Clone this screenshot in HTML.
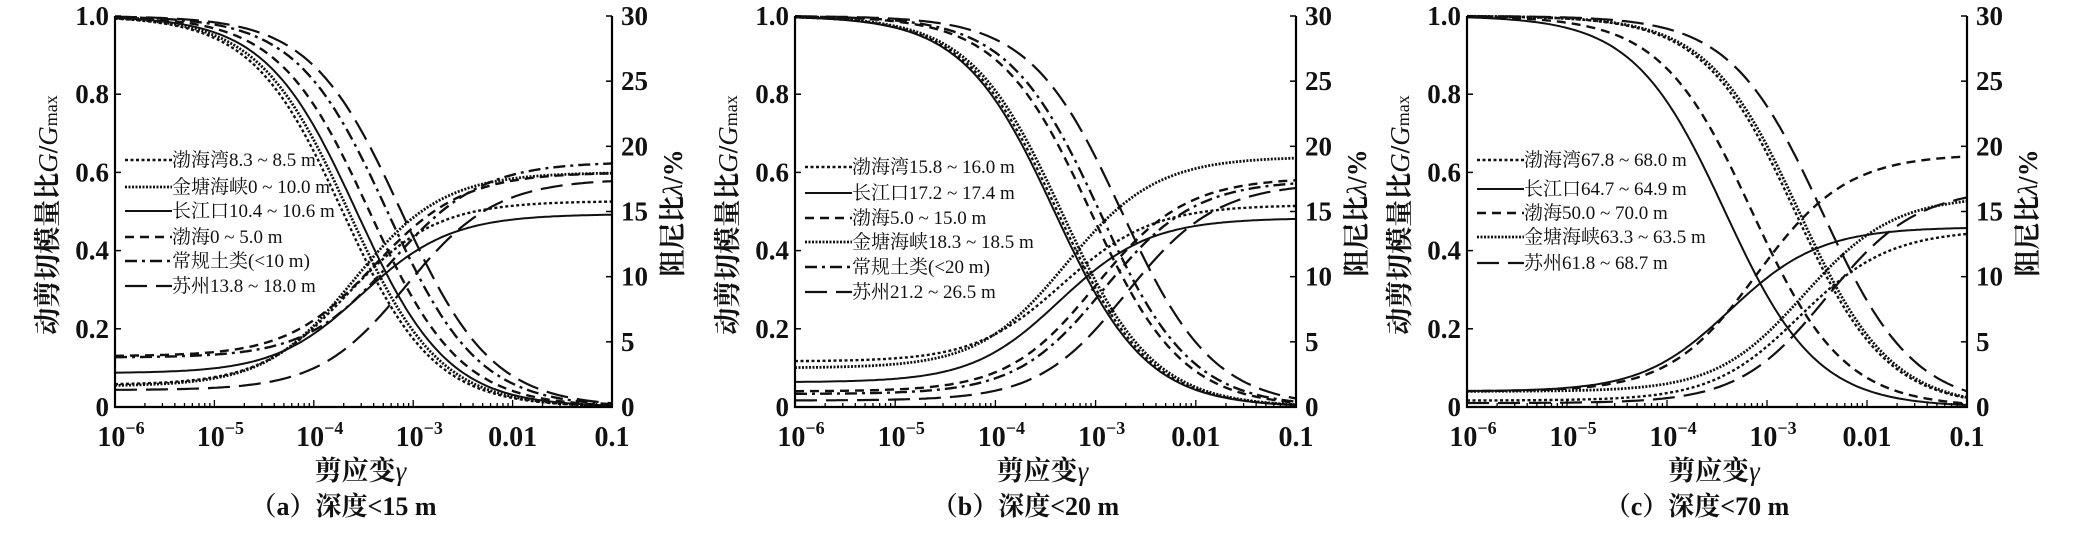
<!DOCTYPE html>
<html><head><meta charset="utf-8">
<style>
html,body{margin:0;padding:0;background:#fff;}
svg{display:block;}
text{font-family:"Liberation Serif","Noto Serif CJK SC",serif;fill:#111;}
</style></head>
<body>
<svg id="s" width="2082" height="536" xmlns="http://www.w3.org/2000/svg"></svg>
<script>
const S=document.getElementById('s');
let out='';
const T=16,B=407,H=B-T;
const styles={
 dot:'stroke-dasharray="3,2.5" stroke-width="2.4"',
 dot2:'stroke-dasharray="2,1.5" stroke-width="2.8"',
 solid:'stroke-width="2"',
 dash:'stroke-dasharray="9,6" stroke-width="2.4"',
 dashdot:'stroke-dasharray="12,5,3,5" stroke-width="2.4"',
 long:'stroke-dasharray="22,9" stroke-width="2.2"'
};
const panels=[
 {L:115,R:612,cap:'（a）深度<15 m',
  legY:[160,187,211,237,261,286],
  series:[
   ['dot','渤海湾8.3 ~ 8.5 m',2.29,1.7,15.8],
   ['dot2','金塘海峡0 ~ 10.0 m',2.35,1.6,18.0],
   ['solid','长江口10.4 ~ 10.6 m',2.43,2.6,14.8],
   ['dash','渤海0 ~ 5.0 m',2.56,3.9,18.0],
   ['dashdot','常规土类(<10 m)',2.74,3.8,18.8],
   ['long','苏州13.8 ~ 18.0 m',2.88,1.3,17.5]]},
 {L:795,R:1296,cap:'（b）深度<20 m',
  legY:[167,193,218,242,267,292],
  series:[
   ['dot','渤海湾15.8 ~ 16.0 m',2.62,3.5,15.5],
   ['solid','长江口17.2 ~ 17.4 m',2.59,1.9,14.5],
   ['dash','渤海5.0 ~ 15.0 m',2.95,1.2,17.6],
   ['dot2','金塘海峡18.3 ~ 18.5 m',2.66,3.0,19.2],
   ['dashdot','常规土类(<20 m)',3.04,1.0,17.4],
   ['long','苏州21.2 ~ 26.5 m',3.26,0.5,17.2]]},
 {L:1467,R:1967,cap:'（c）深度<70 m',
  legY:[160,189,213,237,263],
  series:[
   ['dot','渤海湾67.8 ~ 68.0 m',3.28,0.5,13.6],
   ['solid','长江口64.7 ~ 64.9 m',2.58,1.2,13.8],
   ['dash','渤海50.0 ~ 70.0 m',2.85,1.2,19.4],
   ['dot2','金塘海峡63.3 ~ 63.5 m',3.32,1.2,16.2],
   ['long','苏州61.8 ~ 68.7 m',3.55,0.3,16.8]]}
];
panels.forEach(p=>{
 const L=p.L,R=p.R,W=R-L,dec=W/5;
 p.series.forEach(s=>{
  const [st,name,g,dmin,dmax]=s;
  let pg='',pd='';
  for(let i=0;i<=200;i++){
   const d=i/200*5;const x=L+d*dec;
   const r=Math.pow(10,(d-g)*0.95);
   const G=1/(1+r);
   const D=dmin+(dmax-dmin)*Math.pow(1-G,1.1);
   pg+=(i?'L':'M')+x.toFixed(1)+','+(B-G*H).toFixed(1);
   pd+=(i?'L':'M')+x.toFixed(1)+','+(B-D/30*H).toFixed(1);
  }
  out+=`<path d="${pg}" fill="none" stroke="#111" ${styles[st]}/>`;
  out+=`<path d="${pd}" fill="none" stroke="#111" ${styles[st]}/>`;
 });
 out+=`<path d="M${L},${T}V${B}H${R}V${T}" fill="none" stroke="#000" stroke-width="2.2"/>`;
 for(let i=0;i<=5;i++){
  const y=B-i*0.2*H;
  out+=`<line x1="${L}" x2="${L+6}" y1="${y}" y2="${y}" stroke="#000" stroke-width="1.5"/>`;
  out+=`<text x="${L-6}" y="${y+9}" font-size="27" font-weight="bold" text-anchor="end">${i==0?'0':(i*0.2).toFixed(1)}</text>`;
  const yr=B-i*5/30*H;
  out+=`<line x1="${R-6}" x2="${R}" y1="${yr}" y2="${yr}" stroke="#000" stroke-width="1.5"/>`;
  out+=`<text x="${R+9}" y="${yr+9}" font-size="27" font-weight="bold">${i*5}</text>`;
 }
 out+=`<line x1="${R-6}" x2="${R}" y1="${T}" y2="${T}" stroke="#000" stroke-width="1.5"/>`;
 out+=`<text x="${R+9}" y="${T+9}" font-size="27" font-weight="bold">30</text>`;
 for(let k=0;k<5;k++)for(let m=1;m<10;m++){
  const x=L+(k+Math.log10(m))*dec;
  out+=`<line x1="${x}" x2="${x}" y1="${B}" y2="${B-(m==1?7:4)}" stroke="#000" stroke-width="1.3"/>`;
 }
 const xl=['10<tspan dy="-12" font-size="18">−6</tspan>','10<tspan dy="-12" font-size="18">−5</tspan>','10<tspan dy="-12" font-size="18">−4</tspan>','10<tspan dy="-12" font-size="18">−3</tspan>','0.01','0.1'];
 xl.forEach((t,i)=>{
  const x=L+i*dec+(i<4?6:0);
  out+=`<text x="${x}" y="446" font-size="28" font-weight="bold" text-anchor="middle">${t}</text>`;
 });
 out+=`<text x="${L+W/2-3}" y="480" font-size="27" font-weight="bold" text-anchor="middle">剪应变<tspan font-style="italic" font-weight="normal">γ</tspan></text>`;
 out+=`<text x="${L+W/2-20}" y="515" font-size="26" text-anchor="middle" font-weight="bold">${p.cap.replace('<','&lt;')}</text>`;
 out+=`<text transform="translate(${L-58},215) rotate(-90)" font-size="27" font-weight="bold" text-anchor="middle">动剪切模量比<tspan font-style="italic" font-weight="normal">G</tspan>/<tspan font-style="italic" font-weight="normal">G</tspan><tspan font-size="18" font-weight="normal">max</tspan></text>`;
 out+=`<text transform="translate(${R+70},213) rotate(-90)" font-size="27" font-weight="bold" text-anchor="middle">阻尼比<tspan font-style="italic" font-weight="normal">λ</tspan>/%</text>`;
 p.series.forEach((s,i)=>{
  const y=p.legY[i];
  out+=`<line x1="${L+10}" x2="${L+57}" y1="${y}" y2="${y}" stroke="#111" ${styles[s[0]]}/>`;
  out+=`<text x="${L+57}" y="${y+6}" font-size="19">${s[1].replace('<','&lt;')}</text>`;
 });
});
S.innerHTML=out;
</script>
</body></html>
